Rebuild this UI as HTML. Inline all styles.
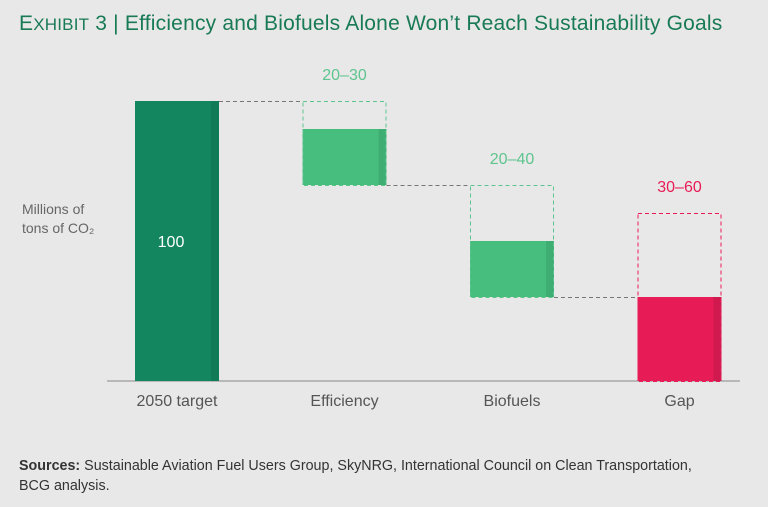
<!DOCTYPE html>
<html><head><meta charset="utf-8"><style>
body{margin:0;width:768px;height:507px;background:#e8e8e8;font-family:"Liberation Sans",sans-serif;overflow:hidden;position:relative}
.t{position:absolute;white-space:nowrap}
</style></head><body>
<div class="t" style="left:19px;top:12px;font-size:21px;letter-spacing:0.2px;color:#197a56"><span>E</span><span style="font-size:17px">XHIBIT</span> 3 | Efficiency and Biofuels Alone Won’t Reach Sustainability Goals</div>
<div class="t" style="left:22px;top:200px;font-size:14px;line-height:19px;color:#666">Millions of<br>tons of CO₂</div>
<svg id="c" width="768" height="507" style="position:absolute;left:0;top:0"></svg>
<div class="t" style="left:19px;top:456px;font-size:14.3px;line-height:20px;color:#333"><b>Sources:</b> Sustainable Aviation Fuel Users Group, SkyNRG, International Council on Clean Transportation,<br>BCG analysis.</div>
<script>
const categories=["2050 target","Efficiency","Biofuels","Gap"];
const lowValues=[100,20,20,30];
const highValues=[100,30,40,60];
const rangeLabels=["100","20–30","20–40","30–60"];
const NS="http://www.w3.org/2000/svg",svg=document.getElementById('c');
const y0=381,k=2.8,x0=135,step=167.5,bw=84;
const y=v=>y0-v*k, x=i=>x0+i*step;
function mk(t,a){const e=document.createElementNS(NS,t);for(const n in a)e.setAttribute(n,a[n]);svg.appendChild(e);return e;}
const ax=mk('line',{x1:107,x2:740,y1:y0,y2:y0,stroke:'#888','stroke-width':1});


let level=lowValues[0];
categories.forEach((c,i)=>{
  const xl=x(i);
  let top,bot,color,dark;
  if(i==0){top=y(level);bot=y0;color='#138660';dark='#117a56';}
  else if(i==categories.length-1){
    top=y(lowValues[i]);bot=y0;color='#e71c57';dark='#d01a4f';
  } else {
    const bottomV=level-highValues[i];
    top=y(bottomV+lowValues[i]);bot=y(bottomV);color='#47bd7e';dark='#3fae72';
  }
  const r=mk('rect',{x:xl,y:top,width:bw,height:bot-top,fill:color});
  
  
  const s=mk('rect',{x:xl+bw-8,y:top,width:8,height:bot-top,fill:dark});
  
  
  if(i==categories.length-1){
    const dt=mk('rect',{x:xl+0.5,y:y(highValues[i])+0.5,width:bw-1,height:y0-y(highValues[i]),fill:'none',stroke:'#e71c57','stroke-dasharray':'4 3'});
    
    
  } else if(i>0){
    const dt=mk('rect',{x:xl+0.5,y:y(level)+0.5,width:bw-1,height:highValues[i]*k,fill:'none',stroke:'#5ec48e','stroke-dasharray':'4 3'});
    
    
    level=level-highValues[i];
  }
  if(i<categories.length-1){
    const ly=(i==0?y(lowValues[0]):y(level))+0.5;
    const cn=mk('line',{x1:xl+bw,x2:x(i+1),y1:ly,y2:ly,stroke:'#777','stroke-dasharray':'4 3'});
    
    
  }
  const tl=mk('text',{x:xl+bw/2,y:406,'text-anchor':'middle','font-size':16,fill:'#555','font-family':'Liberation Sans, sans-serif'});
  tl.textContent=c;
  
  
  let vl;
  if(i==0) vl=mk('text',{x:xl+bw/2-6,y:247,'text-anchor':'middle','font-size':16,fill:'#fff','font-family':'Liberation Sans, sans-serif'});
  else {
    const bt=i==categories.length-1?y(highValues[i]):y(level+highValues[i]);
    vl=mk('text',{x:xl+bw/2,y:bt-21,'text-anchor':'middle','font-size':16,fill:i==categories.length-1?'#e71c57':'#5ec48e','font-family':'Liberation Sans, sans-serif'});
  }
  vl.textContent=rangeLabels[i];
  
  
});
</script>
</body></html>
